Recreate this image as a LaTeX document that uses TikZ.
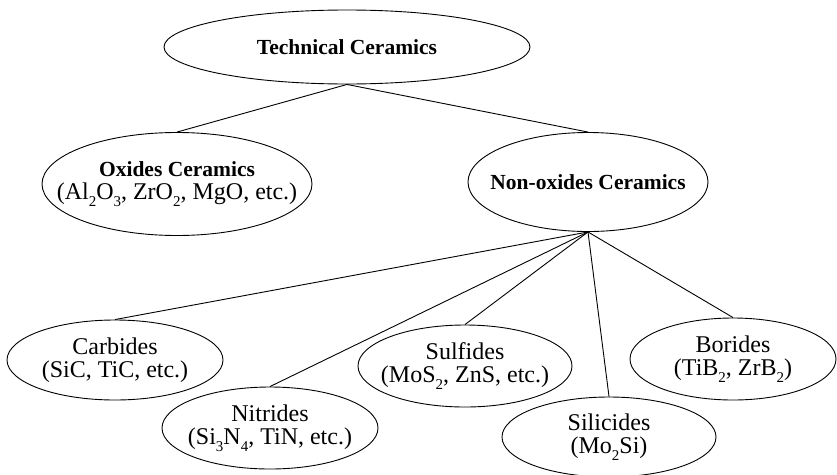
\documentclass[tikz,border=0pt]{standalone}
\usepackage{fontspec}
\setmainfont{Liberation Serif}
\usetikzlibrary{shapes.geometric}
\newcommand\sbs[1]{\raisebox{-0.3em}{\fontsize{15}{15}\selectfont #1}}
\tikzset{
  el/.style={draw, line width=0.9pt, ellipse, inner sep=0pt},
  txt/.style={align=center, inner sep=0pt, font=\fontsize{24}{23}\selectfont},
  hdt/.style={align=center, inner sep=0pt, font=\fontsize{21.5}{23}\selectfont\bfseries},
  ln/.style={line width=0.9pt}
}
\begin{document}
\begin{tikzpicture}[x=1pt,y=-1pt]
\useasboundingbox (0,0) rectangle (837,474);
\node[el, minimum width=366pt, minimum height=74pt,
  label={[hdt]center:{Technical Ceramics}}] (tc) at (347,47) {};
\node[el, minimum width=270pt, minimum height=103pt,
  label={[hdt]center:{Oxides Ceramics\\{\mdseries\fontsize{24}{23}\selectfont (Al\sbs{2}O\sbs{3}, ZrO\sbs{2}, MgO, etc.)}}}] (ox) at (177,184) {};
\node[el, minimum width=240pt, minimum height=99pt,
  label={[hdt]center:{Non-oxides Ceramics}}] (no) at (588,182) {};
\node[el, minimum width=216pt, minimum height=80pt,
  label={[txt]center:{Carbides\\(SiC, TiC, etc.)}}] (ca) at (115,360) {};
\node[el, minimum width=216pt, minimum height=82pt,
  label={[txt]center:{Nitrides\\(Si\sbs{3}N\sbs{4}, TiN, etc.)}}] (ni) at (270,428) {};
\node[el, minimum width=214pt, minimum height=82pt,
  label={[txt]center:{Sulfides\\(MoS\sbs{2}, ZnS, etc.)}}] (su) at (465,366) {};
\node[el, minimum width=214pt, minimum height=80pt,
  label={[txt]center:{Silicides\\(Mo\sbs{2}Si)}}] (si) at (609,437) {};
\node[el, minimum width=206pt, minimum height=82pt,
  label={[txt]center:{Borides\\(TiB\sbs{2}, ZrB\sbs{2})}}] (bo) at (733,359) {};
\draw[ln] (tc.south) -- (ox.north);
\draw[ln] (tc.south) -- (no.north);
\draw[ln] (no.south) -- (ca.north);
\draw[ln] (no.south) -- (ni.north);
\draw[ln] (no.south) -- (su.north);
\draw[ln] (no.south) -- (si.north);
\draw[ln] (no.south) -- (bo.north);
\end{tikzpicture}
\end{document}
